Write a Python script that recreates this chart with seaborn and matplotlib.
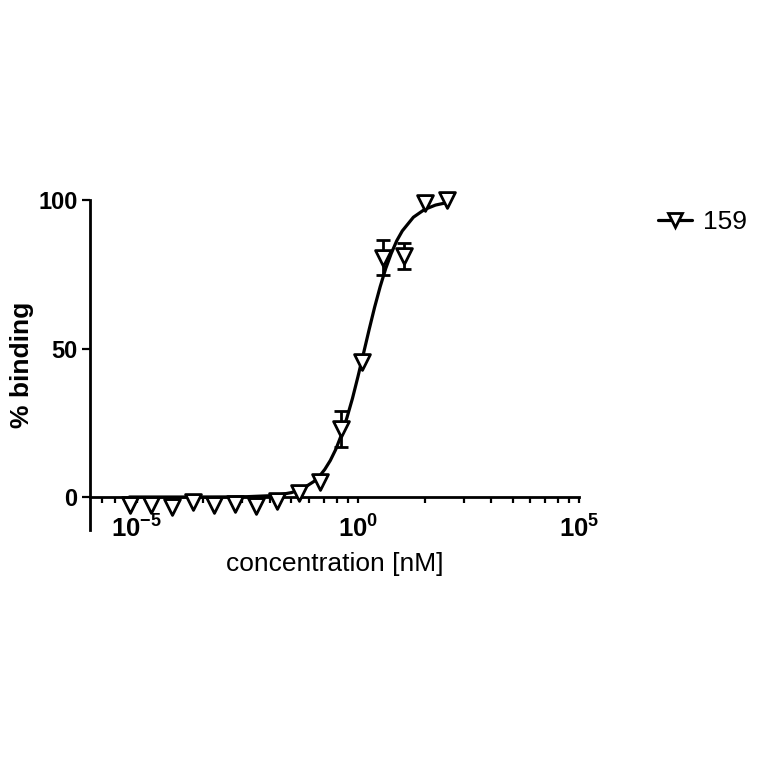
import numpy as np
import pandas as pd
import matplotlib
matplotlib.use("Agg")
import matplotlib.pyplot as plt
from matplotlib.lines import Line2D
from matplotlib.ticker import FixedLocator, FixedFormatter, NullFormatter
import seaborn as sns

# measured points (3-fold dilution series, nM)
CONC_NM = [6.97e-6, 2.09e-5, 6.27e-5, 1.88e-4, 5.65e-4, 1.69e-3, 5.08e-3, 1.52e-2,
           4.57e-2, 0.137, 0.412, 1.23, 3.70, 11.1, 33.3, 100.0]
BINDING = [-2.7, -2.7, -3.3, -1.7, -2.7, -2.2, -3.0, -1.2,
           1.3, 5.0, 23.0, 45.5, 80.6, 81.1, 98.9, 100.0]
SEM = [0, 0, 0, 0, 0, 0, 0, 0,
       0, 0, 6.0, 0, 5.9, 4.4, 0, 0]

# fitted curve (log10 nM, % binding)
CURVE_LOG_CONC = [-5.16, -4.0, -3.0, -2.5, -2.0, -1.75, -1.5, -1.25, -1.0, -0.875,
                  -0.75, -0.625, -0.5, -0.375, -0.25, -0.125, 0.0, 0.125, 0.25,
                  0.375, 0.5, 0.625, 0.75, 0.875, 1.0, 1.25, 1.5, 1.75, 2.0]
CURVE_Y = [0.0, 0.0, 0.03, 0.12, 0.43, 0.81, 1.5, 2.8, 5.2, 6.9,
           9.3, 12.3, 16.1, 20.9, 26.7, 33.2, 40.6, 48.4, 56.3,
           63.9, 70.8, 76.9, 82.0, 86.3, 89.6, 94.2, 96.8, 98.3, 99.1]

SERIES_NAME = "159"
X_TICKS = [1e-5, 1.0, 1e5]
X_TICK_LABELS = [r"$\mathbf{10^{-5}}$", r"$\mathbf{10^{0}}$", r"$\mathbf{10^{5}}$"]
Y_TICKS = [0, 50, 100]

sns.set_style("ticks")
plt.rcParams["font.family"] = ["Liberation Sans", "DejaVu Sans"]
plt.rcParams["mathtext.fontset"] = "custom"
plt.rcParams["mathtext.rm"] = "Liberation Sans"
plt.rcParams["mathtext.bf"] = "Liberation Sans:bold"
for key in ("text.color", "axes.labelcolor", "xtick.color", "ytick.color", "axes.edgecolor"):
    plt.rcParams[key] = "black"

pts = pd.DataFrame({"conc": CONC_NM, "binding": BINDING, "sem": SEM})
curve = pd.DataFrame({"conc": np.power(10.0, CURVE_LOG_CONC), "binding": CURVE_Y})

fig = plt.figure(figsize=(7.64, 7.64), dpi=100)
ax = fig.add_axes([0.1178, 0.3063, 0.6407, 0.4319])
ax.set_xscale("log")

sns.lineplot(data=curve, x="conc", y="binding", color="black", linewidth=2.3,
             sort=False, ax=ax, zorder=2, clip_on=False)

err = pts[pts["sem"] > 0]
ax.errorbar(err["conc"], err["binding"], yerr=err["sem"], fmt="none",
            ecolor="black", elinewidth=2.0, capsize=5, capthick=2.0, zorder=3)

sns.scatterplot(data=pts, x="conc", y="binding", marker="v", s=130,
                color="white", edgecolor="black", linewidth=2.0,
                zorder=4, clip_on=False, ax=ax)

ax.set_xlim(10 ** -6.05, 1e5)
ax.set_ylim(-11.1, 100)

# prism-like axes: x axis crossing at y = 0
ax.spines["top"].set_visible(False)
ax.spines["right"].set_visible(False)
ax.spines["bottom"].set_position(("data", 0))
for s in ("left", "bottom"):
    ax.spines[s].set_linewidth(2.0)

ax.xaxis.set_major_locator(FixedLocator(X_TICKS))
ax.xaxis.set_major_formatter(FixedFormatter(X_TICK_LABELS))
minor = [10 ** (m + 5 * np.log10(k)) for m in (-10, -5, 0) for k in range(2, 10)]
minor = [v for v in minor if 10 ** -6.05 < v < 1e5]
ax.xaxis.set_minor_locator(FixedLocator(minor))
ax.xaxis.set_minor_formatter(NullFormatter())
ax.tick_params(axis="x", which="both", direction="out", length=4, width=1.6,
               labelsize=18.5, pad=9)

ax.set_yticks(Y_TICKS)
ax.set_yticklabels([str(v) for v in Y_TICKS], fontweight="bold")
ax.tick_params(axis="y", direction="out", length=6, width=1.6, labelsize=17, pad=3)

ax.set_xlabel("concentration [nM]", fontsize=19, labelpad=7)
ax.set_ylabel("% binding", fontsize=19, fontweight="bold", labelpad=3)

handle = Line2D([], [], color="black", linewidth=2.3, marker="v", markersize=10,
                markerfacecolor="white", markeredgecolor="black", markeredgewidth=2.0)
fig.legend([handle], [SERIES_NAME], loc="center left",
           bbox_to_anchor=(0.861, 1 - 222 / 764), frameon=False, fontsize=19,
           handlelength=1.3, handletextpad=0.4, borderpad=0, borderaxespad=0)

fig.savefig("out.png", dpi=100, facecolor="white")
